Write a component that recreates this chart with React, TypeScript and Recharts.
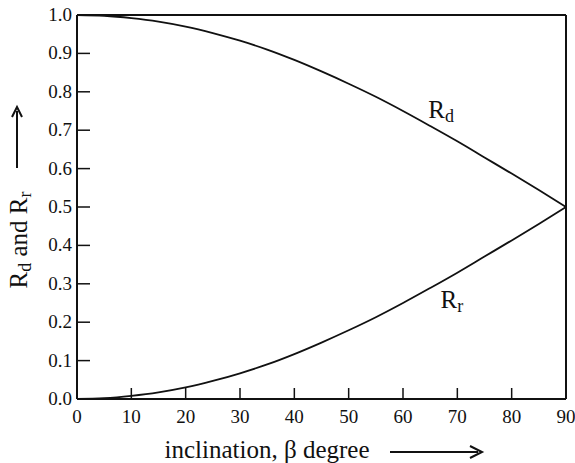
import React from "react";
import {
  LineChart,
  Line,
  XAxis,
  YAxis,
  ReferenceLine,
  ReferenceDot,
  Label,
} from "recharts";

const inclination = [0, 5, 10, 15, 20, 25, 30, 35, 40, 45, 50, 55, 60, 65, 70, 75, 80, 85, 90];
const rdValues = [1.0, 0.998, 0.992, 0.983, 0.97, 0.953, 0.933, 0.91, 0.883, 0.853, 0.821, 0.787, 0.75, 0.711, 0.671, 0.629, 0.587, 0.544, 0.5];
const rrValues = [0.0, 0.002, 0.008, 0.017, 0.03, 0.047, 0.067, 0.09, 0.117, 0.147, 0.179, 0.213, 0.25, 0.289, 0.329, 0.371, 0.413, 0.456, 0.5];
const xTicks = [0, 10, 20, 30, 40, 50, 60, 70, 80, 90];
const yTicks = [0, 0.1, 0.2, 0.3, 0.4, 0.5, 0.6, 0.7, 0.8, 0.9, 1.0];

const data = inclination.map((b, i) => ({ beta: b, rd: rdValues[i], rr: rrValues[i] }));

const FONT = '"Liberation Serif", "Times New Roman", Times, serif';
const serif = { fontFamily: FONT };

// ticks point into the plot, so draw them ourselves
const XTick = ({ x, y, payload }: any) => {
  const inner = payload.value > 0 && payload.value < 90;
  return (
    <g>
      {inner && <line x1={x} y1={y} x2={x} y2={y - 11} stroke="#111" strokeWidth={1.5} />}
      <text x={x} y={y + 24} textAnchor="middle" style={serif} fontSize={19} fill="#111">
        {payload.value}
      </text>
    </g>
  );
};

const YTick = ({ x, y, payload }: any) => {
  const inner = payload.value > 0 && payload.value < 1;
  return (
    <g>
      {inner && <line x1={x} y1={y} x2={x + 13} y2={y} stroke="#111" strokeWidth={1.5} />}
      <text x={x - 5} y={y + 6} textAnchor="end" style={serif} fontSize={19} fill="#111">
        {payload.value.toFixed(1)}
      </text>
    </g>
  );
};

const CurveLabel = ({ viewBox, main, sub }: any) => {
  if (!viewBox) return null;
  const cx = viewBox.cx ?? viewBox.x + (viewBox.width || 0) / 2;
  const cy = viewBox.cy ?? viewBox.y + (viewBox.height || 0) / 2;
  return (
    <text x={cx} y={cy} textAnchor="middle" style={serif} fontSize={25} fill="#111">
      {main}
      <tspan fontSize={18} dy={4}>{sub}</tspan>
    </text>
  );
};

const XTitle = () => (
  <g>
    <text x={267} y={458} textAnchor="middle" style={serif} fontSize={25} fill="#111">
      inclination, β degree
    </text>
    <line x1={390} y1={452} x2={478} y2={452} stroke="#111" strokeWidth={2} />
    <path d="M470,446 L482,452 L470,458" fill="none" stroke="#111" strokeWidth={2} />
  </g>
);

const YTitle = () => (
  <g>
    <text
      x={0}
      y={0}
      transform="translate(27,240) rotate(-90)"
      textAnchor="middle"
      style={serif}
      fontSize={25}
      fill="#111"
    >
      R<tspan fontSize={18} dy={4}>d</tspan>
      <tspan dy={-4}> and R</tspan>
      <tspan fontSize={18} dy={4}>r</tspan>
    </text>
    <line x1={17} y1={168} x2={17} y2={111} stroke="#111" strokeWidth={2} />
    <path d="M12,117 L17,107 L22,117" fill="none" stroke="#111" strokeWidth={2} />
  </g>
);

export default function App() {
  return (
    <div style={{ position: "absolute", left: 0, top: 0, width: 575, height: 463, background: "#fff" }}>
      <LineChart
        width={575}
        height={463}
        data={data}
        margin={{ top: 15, right: 9, left: 0, bottom: 0 }}
      >
        <XAxis
          dataKey="beta"
          type="number"
          domain={[0, 90]}
          ticks={xTicks}
          height={64}
          tickSize={0}
          tickMargin={0}
          tickLine={false}
          axisLine={{ stroke: "#111", strokeWidth: 2 }}
          tick={<XTick />}
          interval={0}
        />
        <YAxis
          type="number"
          domain={[0, 1]}
          ticks={yTicks}
          width={77}
          tickSize={0}
          tickMargin={0}
          tickLine={false}
          axisLine={{ stroke: "#111", strokeWidth: 2 }}
          tick={<YTick />}
          interval={0}
        />
        <ReferenceLine y={1} stroke="#111" strokeWidth={2} />
        <ReferenceLine x={90} stroke="#111" strokeWidth={2} />
        <Line
          type="monotone"
          dataKey="rd"
          stroke="#111"
          strokeWidth={1.8}
          dot={false}
          isAnimationActive={false}
        />
        <Line
          type="monotone"
          dataKey="rr"
          stroke="#111"
          strokeWidth={1.8}
          dot={false}
          isAnimationActive={false}
        />
        <ReferenceDot x={67} y={0.732} r={0} fill="none" stroke="none">
          <Label content={<CurveLabel main="R" sub="d" />} />
        </ReferenceDot>
        <ReferenceDot x={69} y={0.237} r={0} fill="none" stroke="none">
          <Label content={<CurveLabel main="R" sub="r" />} />
        </ReferenceDot>
        <XTitle />
        <YTitle />
      </LineChart>
    </div>
  );
}
